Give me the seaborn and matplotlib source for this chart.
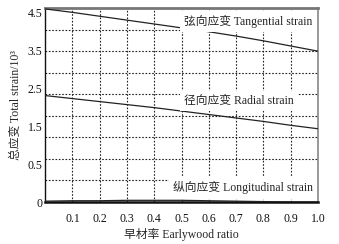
import numpy as np
import pandas as pd
import matplotlib
matplotlib.use("Agg")
import matplotlib.pyplot as plt
import seaborn as sns

# ==========================================
# DATA
# ==========================================
earlywood_ratio = [0.0, 0.1, 0.2, 0.3, 0.4, 0.5, 0.6, 0.7, 0.8, 0.9, 1.0]
tangential = [4.48, 4.40, 4.31, 4.22, 4.13, 4.04, 3.95, 3.85, 3.74, 3.62, 3.50]
radial = [2.47, 2.40, 2.33, 2.26, 2.19, 2.11, 2.03, 1.95, 1.87, 1.78, 1.70]
longitudinal = [0.02, 0.03, 0.03, 0.04, 0.04, 0.04, 0.03, 0.02, 0.01, 0.0, 0.0]

x_ticks = [0.1, 0.2, 0.3, 0.4, 0.5, 0.6, 0.7, 0.8, 0.9, 1.0]
x_tick_labels = ["0.1", "0.2", "0.3", "0.4", "0.5", "0.6", "0.7", "0.8", "0.9", "1.0"]
# the scanned figure has its y labels evenly spread, not on the grid lines
y_label_pos = [0, 0.88, 1.76, 2.64, 3.52, 4.4]
y_tick_labels = ["0", "0.5", "1.5", "2.5", "3.5", "4.5"]

series_names = ["弦向应变 Tangential strain", "径向应变 Radial strain", "纵向应变 Longitudinal strain"]

df = pd.DataFrame({
    "ratio": earlywood_ratio * 3,
    "strain": tangential + radial + longitudinal,
    "kind": np.repeat(series_names, len(earlywood_ratio)),
})

sns.set_theme(style="white")
FONT = ["Liberation Serif", "Noto Sans CJK SC", "DejaVu Sans"]
plt.rcParams["font.family"] = FONT
plt.rcParams["font.size"] = 8.5

fig = plt.figure(figsize=(3.39, 2.44), dpi=100)
ax = fig.add_axes([0.133, 0.172, 0.805, 0.795])

sns.lineplot(data=df, x="ratio", y="strain", hue="kind", palette=["#222222"] * 3,
             linewidth=0.9, legend=False, ax=ax, zorder=3)

ax.set_xlim(0, 1.0)
ax.set_ylim(0, 4.5)
ax.set_xticks(x_ticks)
ax.set_xticklabels(x_tick_labels)
ax.set_yticks(y_label_pos)
ax.set_yticklabels(y_tick_labels)
ax.set_yticks(np.arange(0.5, 4.5, 0.5), minor=True)

ax.tick_params(axis="x", direction="in", length=3, width=0.8, pad=8, labelsize=8.5, colors="#111111")
ax.tick_params(axis="y", which="major", direction="in", length=0, pad=2, labelsize=8.5, colors="#111111")
ax.tick_params(axis="y", which="minor", direction="in", length=3, width=0.8)

ax.grid(False)
ax.grid(True, axis="x", which="major", linestyle=(0, (1.5, 1.5)), color="#222222", linewidth=0.8)
ax.grid(True, axis="y", which="minor", linestyle=(0, (1.5, 1.5)), color="#222222", linewidth=0.8)

for side in ["left", "bottom"]:
    ax.spines[side].set_color("#111111")
ax.spines["left"].set_linewidth(1.0)
ax.spines["bottom"].set_linewidth(1.8)
ax.spines["top"].set_color("#777777")
ax.spines["top"].set_linewidth(2.0)
ax.spines["right"].set_color("#888888")
ax.spines["right"].set_linewidth(1.2)

# white boxes behind the labels hide the grid and part of the lines, as in the scan
box = dict(facecolor="white", edgecolor="none", pad=3)
ax.text(0.51, 4.19, series_names[0], fontsize=8.5, va="center", ha="left", bbox=box, zorder=4)
ax.text(0.51, 2.35, series_names[1], fontsize=8.5, va="center", ha="left", bbox=box, zorder=4)
ax.text(0.47, 0.33, series_names[2], fontsize=8.5, va="center", ha="left", bbox=box, zorder=4)

ax.set_xlabel("早材率 Earlywood ratio", fontsize=8.5, labelpad=2)
ax.set_ylabel("总应变 Total strain/10³", fontsize=8.5, labelpad=4)

fig.savefig("out.png", dpi=100)
